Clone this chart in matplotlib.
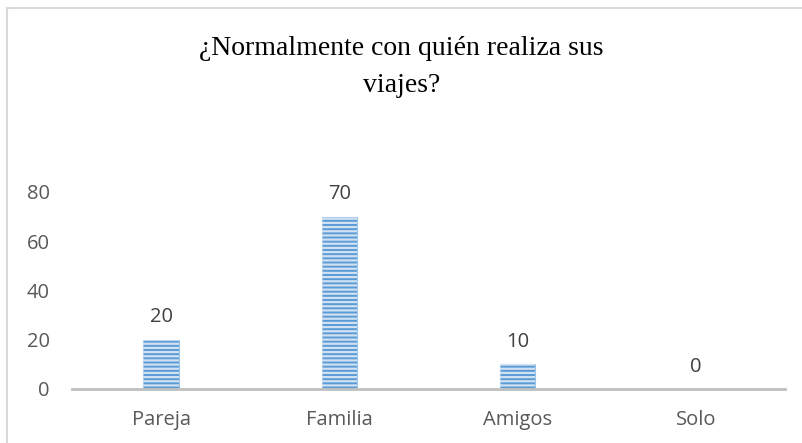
import numpy as np
import matplotlib.pyplot as plt
from matplotlib.lines import Line2D

# chart data
categories = ['Pareja', 'Familia', 'Amigos', 'Solo']
values = [20, 70, 10, 0]
y_ticks = [0, 20, 40, 60, 80]
title = '¿Normalmente con quién realiza sus\nviajes?'

W, H = 803, 443
fig = plt.figure(figsize=(W / 100, H / 100), dpi=100)
fig.patch.set_facecolor('white')

# outer chart border (only top and left visible in the crop)
fig.add_artist(Line2D([7 / W, 7 / W], [0, 1 - 8 / H], color='#d9d9d9', lw=1.5))
fig.add_artist(Line2D([7 / W, 1], [1 - 8 / H, 1 - 8 / H], color='#d9d9d9', lw=1.5))

ax = fig.add_axes([72 / W, (H - 389) / H, (785 - 72) / W, (389 - 192) / H])

x = np.arange(len(categories))
plt.rcParams['hatch.linewidth'] = 1.6
ax.bar(x, values, width=0.2, color='#5b9bd5', edgecolor='#9dc3e6', linewidth=0.8, zorder=2)
ax.bar(x, values, width=0.2, color='none', edgecolor='#cfe1f3', hatch='----', linewidth=0, zorder=3)

for xi, v in zip(x, values):
    ax.annotate(str(v), (xi, v), xytext=(0, 9), textcoords='offset points',
                ha='center', va='bottom', fontsize=14.5, color='#404040',
                family='Open Sans', annotation_clip=False)

ax.set_xlim(-0.5, len(categories) - 0.5)
ax.set_ylim(0, 80)
ax.set_yticks(y_ticks)
ax.set_xticks(x)
ax.set_xticklabels(categories)
ax.tick_params(axis='both', length=0, labelsize=14.5, labelcolor='#595959')
ax.tick_params(axis='y', pad=16)
ax.tick_params(axis='x', pad=15)
for lab in ax.get_xticklabels() + ax.get_yticklabels():
    lab.set_family('Open Sans')

for side in ['top', 'right', 'left']:
    ax.spines[side].set_visible(False)
ax.spines['bottom'].set_color('#bfbfbf')
ax.spines['bottom'].set_linewidth(2)
ax.spines['bottom'].set_zorder(4)
ax.patch.set_alpha(0)

fig.text(0.5, 1 - 67 / H, title, ha='center', va='center', fontsize=20,
         family='Liberation Serif', color='#000000', linespacing=1.65)

fig.savefig('out.png', dpi=100)
